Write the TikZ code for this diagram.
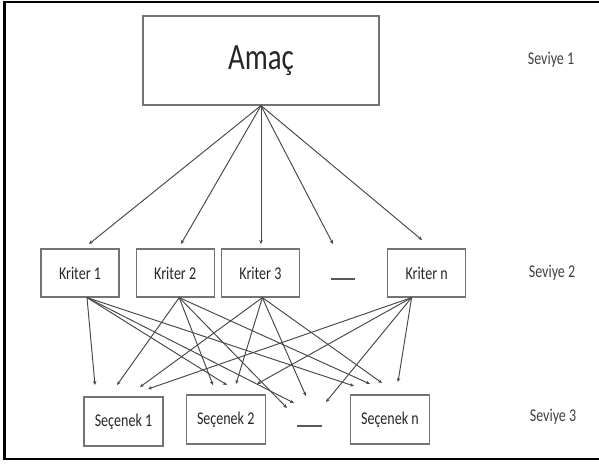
\documentclass[tikz,border=0pt]{standalone}
\usepackage{fontspec}
\newfontfamily\lblfont[FakeStretch=0.78]{Carlito}
\usepackage{tikz}
\usetikzlibrary{positioning,arrows.meta}

\begin{document}
\begin{tikzpicture}[x=1pt,y=-1pt,
	box/.style={draw=black!55, line width=1.2pt, inner sep=0pt, text=black!85, font=\lblfont\fontsize{18}{20}\selectfont},
	lvl/.style={text=black!75, font=\lblfont\fontsize{18}{20}\selectfont},
	gap/.style={text=black!65, inner sep=0pt},
	link/.style={draw=black!72, line width=0.95pt, -{Stealth[length=4pt,width=3.5pt]}}]
		\useasboundingbox (0,0) rectangle (599,464);
		\draw[line width=2.5pt] (602,2)--(4.5,2)--(4.5,459)--(602,459);
		
		% seviye 1
		\node[box, minimum width=236pt, minimum height=89pt, font=\lblfont\fontsize{37}{40}\selectfont] (amac) at (261,60.5) {Amaç};
		
		% seviye 2
		\node[box, minimum width=78pt, minimum height=48pt] (k1) at (80,273) {Kriter 1};
		\node[box, minimum width=78pt, minimum height=48pt, right=16pt of k1] (k2) {Kriter 2};
		\node[box, minimum width=78pt, minimum height=48pt, right=6pt of k2] (k3) {Kriter 3};
		\node[box, minimum width=78pt, minimum height=48pt, right=87pt of k3] (kn) {Kriter n};
		\node[gap] (gap2) at (343,279) {\rule{24pt}{1.3pt}};
		
		% seviye 3
		\node[box, minimum width=79pt, minimum height=49pt] (s1) at (123.5,421.5) {Seçenek 1};
		\node[box, minimum width=79pt, minimum height=49pt, right=22pt of s1, yshift=2pt] (s2) {Seçenek 2};
		\node[box, minimum width=79pt, minimum height=49pt, right=84pt of s2] (sn) {Seçenek n};
		\node[gap] (gap3) at (309.5,426) {\rule{25pt}{1.3pt}};
		
		\node[lvl] (sev1) at (551,60) {Seviye 1};
		\node[lvl] (sev2) at (552,273) {Seviye 2};
		\node[lvl] (sev3) at (553,417) {Seviye 3};
		
		% uclar
		\coordinate (t1) at (89,244);
		\coordinate (t2) at (181,244);
		\coordinate (t3) at (261,244);
		\coordinate (t4) at (333,244);
		\coordinate (t5) at (422,240);
		
		\coordinate (k1-o) at ([xshift=7pt]k1.south);
		\coordinate (k2-o) at ([xshift=4pt]k2.south);
		\coordinate (k3-o) at ([xshift=2pt]k3.south);
		\coordinate (kn-o) at ([xshift=-15pt]kn.south);
		
		\coordinate (k1-s1) at (95,385);
		\coordinate (k2-s1) at (117,385);
		\coordinate (k3-s1) at (140,387);
		\coordinate (kn-s1) at (148,389);
		\coordinate (k2-s2) at (213,385);
		\coordinate (k1-s2) at (227,385);
		\coordinate (k3-s2) at (236,384);
		\coordinate (kn-s2) at (257,384);
		\coordinate (k2-sd) at (287,408);
		\coordinate (k1-sd) at (294,403);
		\coordinate (k3-sd) at (306,396);
		\coordinate (kn-sd) at (326,402);
		\coordinate (k1-sn) at (354,386);
		\coordinate (k2-sn) at (370,384);
		\coordinate (k3-sn) at (382,383);
		\coordinate (kn-sn) at (398,382);
		
		\foreach \t in {t1,t2,t3,t4,t5}
			\draw[link] (amac.south)--(\t);
		\foreach \kr in {k1,k2,k3,kn}
			\foreach \sc in {s1,s2,sd,sn}
				\draw[link] (\kr-o)--(\kr-\sc);
	\end{tikzpicture}
\end{document}
